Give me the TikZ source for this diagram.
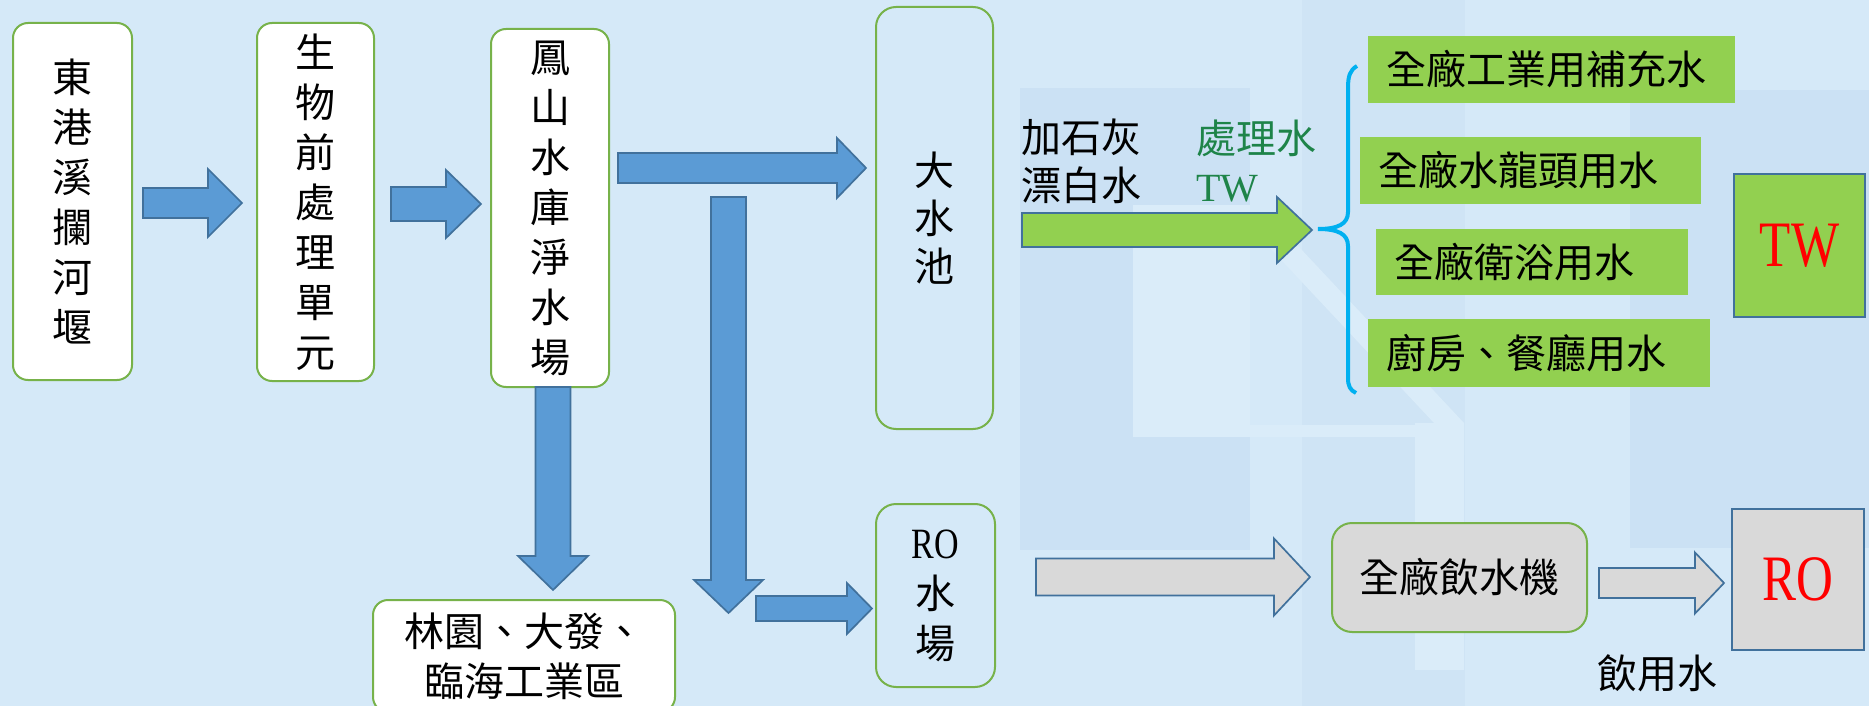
\documentclass[tikz,border=0pt]{standalone}
\usepackage{fontspec}
\setmainfont{Liberation Serif}
\newfontfamily\cjk{Noto Sans CJK TC}
\definecolor{bg}{HTML}{D5E9F8}
\definecolor{wmdark}{HTML}{CBE1F4}
\definecolor{wmlight}{HTML}{DAECF9}
\definecolor{boxgreen}{HTML}{77B24A}
\definecolor{arrblue}{HTML}{5B9BD5}
\definecolor{arredge}{HTML}{41719C}
\definecolor{leaf}{HTML}{92D050}
\definecolor{greyfill}{HTML}{D9D9D9}
\definecolor{bracecol}{HTML}{00B0F0}
\definecolor{twgreen}{HTML}{1E8449}
\newcommand{\rarrow}[7]{\draw[#1] (#2,#4-#5) -- (#3-#7,#4-#5) -- (#3-#7,#4-#6) -- (#3,#4) -- (#3-#7,#4+#6) -- (#3-#7,#4+#5) -- (#2,#4+#5) -- cycle;}
\newcommand{\darrow}[7]{\draw[#1] (#2-#5,#3) -- (#2+#5,#3) -- (#2+#5,#4-#7) -- (#2+#6,#4-#7) -- (#2,#4) -- (#2-#6,#4-#7) -- (#2-#5,#4-#7) -- cycle;}
\newcommand{\narrowlat}[1]{\scalebox{0.85}[1.08]{#1}}
\tikzset{
  cjkfont/.style={font=\cjk\fontsize{20}{25}\selectfont},
  rbox/.style={draw=boxgreen, line width=1pt, rounded corners=7.5pt, fill=white, inner sep=0pt, align=center, cjkfont},
  obox/.style={rbox, fill=none, rounded corners=10pt},
  leafbox/.style={fill=leaf, inner xsep=9pt, inner ysep=0pt, align=left, cjkfont},
  tagbox/.style={draw=arredge, line width=1.4pt, inner sep=0pt, text=red, font=\rmfamily\fontsize{30}{32}\selectfont},
  bluearr/.style={fill=arrblue, draw=arredge, line width=0.85pt, line join=miter},
  greenarr/.style={fill=leaf, draw=arredge, line width=0.85pt},
  greyarr/.style={fill=greyfill, draw=arredge, line width=0.85pt},
  lbl/.style={inner sep=0pt, align=left, cjkfont}
}
\begin{document}
\begin{tikzpicture}[x=0.5pt,y=-0.5pt]
\useasboundingbox (0,0) rectangle (1869,706);
\clip (0,0) rectangle (1869,706);
\fill[bg] (0,0) rectangle (1869,706);
% faint watermark
\fill[wmdark] (1020,88) rectangle (1250,550);
\fill[wmlight] (1133,205) rectangle (1250,437);
\fill[wmdark, opacity=0.6] (1302,0) rectangle (1465,706);
\fill[wmdark] (1630,90) rectangle (1869,548);
\fill[wmlight] (1255,232) -- (1285,232) -- (1464,423) -- (1464,455) -- cycle;
\fill[wmlight] (1415,423) rectangle (1464,670);
\fill[wmlight] (1133,425) rectangle (1415,437);

% boxes
\node[rbox, minimum width=59.5pt, minimum height=178.5pt] (b1) at (72.5,201.5) {東\\港\\溪\\攔\\河\\堰};
\node[rbox, minimum width=58.5pt, minimum height=179pt] (b2) at (315.5,202) {生\\物\\前\\處\\理\\單\\元};
\node[rbox, minimum width=59pt, minimum height=179pt] (b3) at (550,208) {鳳\\山\\水\\庫\\淨\\水\\場};
\node[obox, minimum width=58.5pt, minimum height=211pt, font=\cjk\fontsize{20}{24}\selectfont] (pool) at (934.5,218) {大\\水\\池};
\node[obox, minimum width=59.5pt, minimum height=91.5pt] (ro) at (935.5,595.5) {{\rmfamily\narrowlat{RO}}\\水\\場};
\node[rbox, minimum width=151pt, minimum height=56pt] (ind) at (524,656) {林園、大發、\\臨海工業區};
\node[rbox, fill=greyfill, rounded corners=10pt, minimum width=127.5pt, minimum height=54.5pt] (drink) at (1459.5,577.5) {全廠飲水機};

% leaf boxes
\node[leafbox, text width=165.5pt, minimum height=33.5pt] (u1) at (1551.5,69.5) {全廠工業用補充水};
\node[leafbox, text width=152.5pt, minimum height=33.5pt] (u2) at (1530.5,170.5) {全廠水龍頭用水};
\node[leafbox, text width=138pt, minimum height=33pt] (u3) at (1532,262) {全廠衛浴用水};
\node[leafbox, text width=153pt, minimum height=34pt] (u4) at (1539,353) {廚房、餐廳用水};

\node[tagbox, fill=leaf, minimum width=65.5pt, minimum height=71.5pt] (tw) at (1799.5,245.5) {\narrowlat{TW}};
\node[tagbox, fill=greyfill, minimum width=66pt, minimum height=70.5pt] (rotag) at (1798,579.5) {\narrowlat{RO}};

% labels
\node[lbl, font=\cjk\fontsize{20}{24}\selectfont, anchor=west] (chem) at (1021,161) {加石灰\\漂白水};
\node[lbl, font=\cjk\fontsize{20}{24}\selectfont, anchor=west, text=twgreen] (tlab) at (1196,161) {處理水\\{\rmfamily TW}};
\node[lbl] (dlab) at (1657,673) {飲用水};

% arrows
\rarrow{bluearr}{143}{242}{203}{15}{34}{34}
\rarrow{bluearr}{391}{481}{204}{17}{34}{35}
\rarrow{bluearr}{618}{866}{168}{15}{30}{29}
\darrow{bluearr}{553}{387}{590}{17.5}{35}{34}
\darrow{bluearr}{728.5}{197}{613}{17.5}{34.5}{33}
\rarrow{bluearr}{756}{872}{608.5}{12.5}{25.5}{25}
\rarrow{greenarr}{1022}{1312}{230}{17}{33}{35}
\rarrow{greyarr}{1036}{1310}{577}{18.5}{38.5}{36}
\rarrow{greyarr}{1599}{1724}{583}{15}{30.5}{29}

% brace
\draw[bracecol, line width=2pt] (1357,66) .. controls (1350,70) and (1348,76) .. (1348,88) -- (1348,212) .. controls (1348,224) and (1338,229) .. (1318,229) .. controls (1338,229) and (1348,234) .. (1348,246) -- (1348,378) .. controls (1348,386) and (1350,390) .. (1356,393);
\end{tikzpicture}
\end{document}
